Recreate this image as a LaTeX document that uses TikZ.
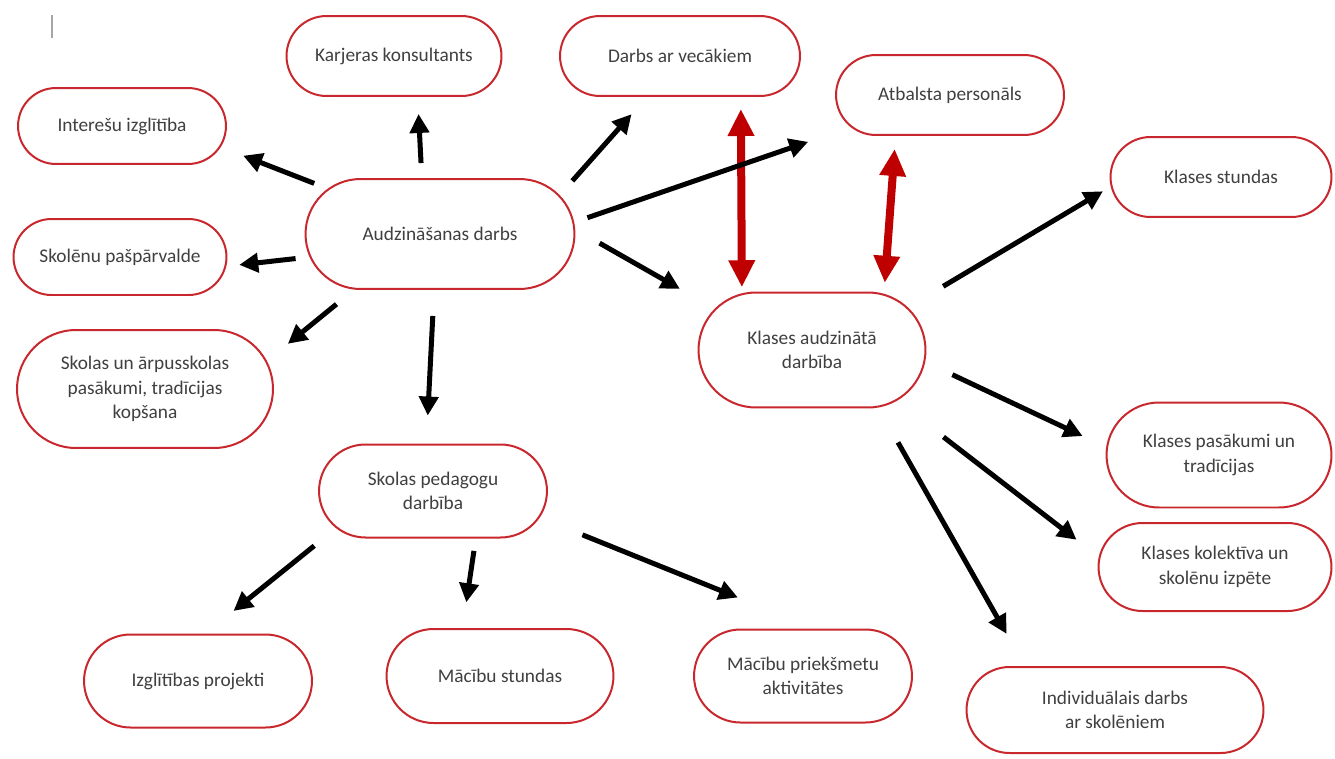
\documentclass[tikz,border=0pt]{standalone}
\usepackage{fontspec}
\setmainfont{Carlito}
\usetikzlibrary{shapes.misc, arrows.meta}
\definecolor{rama}{RGB}{200,40,45}
\definecolor{tumsi}{RGB}{190,0,0}
\definecolor{teksts}{RGB}{64,64,64}
\tikzstyle{bloks} = [rounded rectangle, draw=rama, line width=0.04cm, fill=white, text=teksts, align=center, font=\fontsize{11}{14}\selectfont, inner sep=2pt]
\tikzstyle{bulta} = [-{Triangle[length=0.38cm, width=0.38cm]}, line width=0.1cm, black]
\tikzstyle{divbulta} = [{Triangle[length=0.54cm, width=0.5cm]}-{Triangle[length=0.54cm, width=0.5cm]}, line width=0.16cm, tumsi]

\begin{document}
\begin{tikzpicture}[x=0.02cm, y=-0.02cm]
	\useasboundingbox (0,0) rectangle (1335,758);
	\draw[black!35, line width=0.03cm] (52,15) -- (52,38);
	% centrs
	\node [bloks, minimum width=5.52cm, minimum height=2.2cm] (aud) at (440,234) {Audzināšanas darbs};
	\node [bloks, minimum width=4.44cm, minimum height=1.6cm] (kar) at (394,56) {Karjeras konsultants};
	\node [bloks, minimum width=4.94cm, minimum height=1.6cm] (vec) at (680,56) {Darbs ar vecākiem};
	\node [bloks, minimum width=4.7cm, minimum height=1.6cm] (atb) at (950,95) {Atbalsta personāls};
	\node [bloks, minimum width=4.3cm, minimum height=1.52cm] (int) at (122,126) {Interešu izglītība};
	\node [bloks, minimum width=4.4cm, minimum height=1.52cm] (pas) at (120,257) {Skolēnu pašpārvalde};
	\node [bloks, minimum width=5.26cm, minimum height=2.36cm] (tra) at (145,389) {Skolas un ārpusskolas\\pasākumi, tradīcijas\\kopšana};
	% pedagogi
	\node [bloks, minimum width=4.7cm, minimum height=1.86cm] (ped) at (433,491) {Skolas pedagogu\\darbība};
	\node [bloks, minimum width=4.7cm, minimum height=1.86cm] (izp) at (198,681) {Izglītības projekti};
	\node [bloks, minimum width=4.68cm, minimum height=1.88cm] (mst) at (500,676) {Mācību stundas};
	\node [bloks, minimum width=4.5cm, minimum height=1.86cm] (mpa) at (803,676) {Mācību priekšmetu\\aktivitātes};
	% klases audzinātājs
	\node [bloks, minimum width=4.68cm, minimum height=2.3cm] (kad) at (812,350) {Klases audzinātā\\darbība};
	\node [bloks, minimum width=4.56cm, minimum height=1.6cm] (kst) at (1221,177) {Klases stundas};
	\node [bloks, minimum width=4.64cm, minimum height=2.1cm] (kpt) at (1219,455) {Klases pasākumi un\\tradīcijas};
	\node [bloks, minimum width=4.8cm, minimum height=1.76cm] (kko) at (1215,567) {Klases kolektīva un\\skolēnu izpēte};
	\node [bloks, minimum width=6.08cm, minimum height=1.72cm] (ind) at (1115,710) {Individuālais darbs\\ar skolēniem};

	\draw[divbulta, shorten <=0.24cm, shorten >=0.12cm] (vec.-34) -- (kad.141);
	\draw[divbulta, shorten <=0.26cm, shorten >=0.22cm] (atb.-143) -- (kad.38.5);

	\draw[bulta, shorten <=0.3cm, shorten >=0.34cm] (aud.108) -- (kar.-60);
	\draw[bulta, shorten <=0.29cm, shorten >=0.48cm] (aud.158) -- (int.-12);
	\draw[bulta, shorten <=0.28cm, shorten >=0.26cm] (aud.190) -- (pas.-5);
	\draw[bulta, shorten <=0.46cm, shorten >=0.54cm] (aud.213) -- (tra.13);
	\draw[bulta, shorten <=0.52cm, shorten >=0.56cm] (aud.-96) -- (ped.98);
	\draw[bulta, shorten <=0.38cm, shorten >=0.46cm] (aud.18) -- (vec.231);
	\draw[bulta, shorten <=0.28cm, shorten >=0.9cm] (aud.5) -- (atb.198);
	\draw[bulta, shorten <=0.56cm, shorten >=0.8cm] (aud.2) -- (kad.157);

	\draw[bulta, shorten <=0.82cm, shorten >=0.18cm] (kad.24) -- (kst.185);
	\draw[bulta, shorten <=0.6cm, shorten >=0.52cm] (kad.-6) -- (kpt.176);
	\draw[bulta, shorten <=1.18cm, shorten >=0.56cm] (kad.-31) -- (kko.175);
	\draw[bulta, shorten <=0.8cm, shorten >=0.74cm] (kad.-41) -- (ind.154);

	\draw[bulta, shorten <=0.56cm, shorten >=0.72cm] (ped.201) -- (izp.81);
	\draw[bulta, shorten <=0.25cm, shorten >=0.52cm] (ped.-48) -- (mst.128);
	\draw[bulta, shorten <=0.92cm, shorten >=1.66cm] (ped.-14) -- (mpa.76);
\end{tikzpicture}
\end{document}
